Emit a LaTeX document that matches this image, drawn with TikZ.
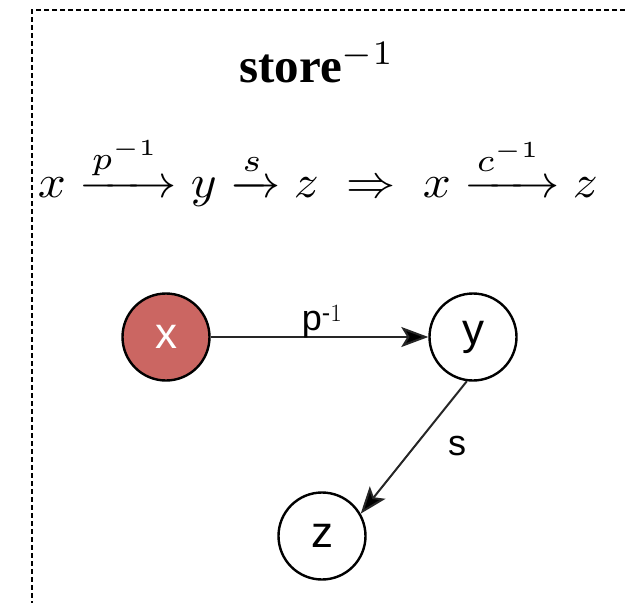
\documentclass[tikz,border=0pt]{standalone}
\usepackage{amsmath}
\usepackage{graphicx}
\usepackage{fontspec}
\newfontfamily\helv{Liberation Sans}
\newfontfamily\tms{Liberation Serif}
\usetikzlibrary{arrows.meta}
\definecolor{nodered}{RGB}{203,102,98}
\tikzset{
  border/.style={line width=2.8pt, dash pattern=on 5pt off 3pt},
  vertex/.style={circle, draw=black, line width=2.4pt, minimum size=87pt, inner sep=0pt, font=\helv\fontsize{44}{44}\selectfont},
  edge/.style={line width=2pt, draw=black!85, -{Stealth[length=27pt,width=20pt,inset=6pt,fill=black]}},
  elabel/.style={font=\helv\fontsize{36}{36}\selectfont, inner sep=0pt}
}
\begin{document}
\begin{tikzpicture}[x=1pt,y=-1pt]
\useasboundingbox (0,0) rectangle (625,603);
\coordinate (tl) at (32,10);
\coordinate (tr) at (625,10);
\coordinate (bl) at (32,603);
\draw[border] (tr) -- (tl) -- (bl);
\node[anchor=base] (title) at (317,82) {\resizebox{155pt}{!}{\tms\bfseries store$^{-1}$}};
\node (rule) at (318,171) {\resizebox*{560pt}{71pt}{$x \xrightarrow{p^{-1}} y \xrightarrow{s} z \;\Rightarrow\; x \xrightarrow{c^{-1}} z$}};
\node[vertex, fill=nodered, text=white] (x) at (166,337) {x};
\node[vertex, fill=white] (y) at (473,337) {y};
\node[vertex, fill=white] (z) at (322,536) {z};
\draw[edge] (x) -- (y);
\draw[edge] (y.262) -- (z.30);
\node[elabel] (lp) at (322,322) {p$^{\text{-}1}$};
\node[elabel] (ls) at (457,446) {s};
\end{tikzpicture}
\end{document}
